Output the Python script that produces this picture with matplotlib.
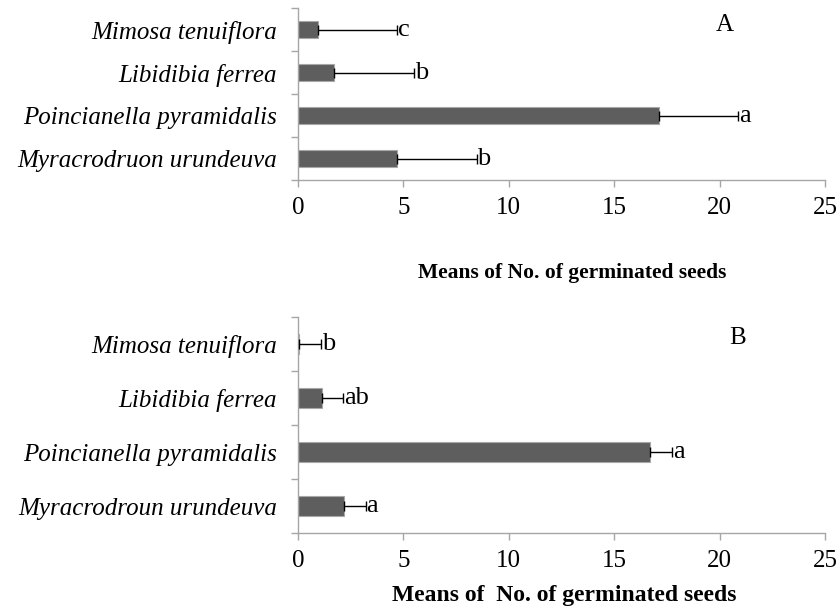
import numpy as np
import matplotlib.pyplot as plt

# species, bottom to top
species_a = ['Myracrodruon urundeuva', 'Poincianella pyramidalis',
             'Libidibia ferrea', 'Mimosa tenuiflora']
species_b = ['Myracrodroun urundeuva', 'Poincianella pyramidalis',
             'Libidibia ferrea', 'Mimosa tenuiflora']

means_a = [4.72, 17.11, 1.72, 0.93]
err_a = [3.76, 3.76, 3.78, 3.76]
letters_a = ['b', 'a', 'b', 'c']

means_b = [2.20, 16.69, 1.13, 0.05]
err_b = [1.01, 1.05, 1.02, 1.05]
letters_b = ['a', 'a', 'ab', 'b']

xticks = [0, 5, 10, 15, 20, 25]

plt.rcParams['font.family'] = ['Liberation Serif', 'DejaVu Serif']

AXIS_GREY = '#A6A6A6'
BAR_GREY = '#5E5E5E'


def drawPanel(ax, names, means, errs, letters, panel, panel_xy, panel_size):
    y = np.arange(len(names))
    ax.barh(y, means, height=0.38, color=BAR_GREY, edgecolor='#A8A8A8', linewidth=0.8, zorder=2)
    ax.errorbar(means, y, xerr=[np.zeros(len(errs)), errs], fmt='none',
                ecolor='black', elinewidth=1.0, capsize=3.5, capthick=1.0, zorder=3)
    for yi, m, e, lab in zip(y, means, errs, letters):
        ax.annotate(lab, (m + e, yi), xytext=(0.5, 0), textcoords='offset points',
                    ha='left', va='center', fontsize=19)

    ax.set_xlim(0, 25)
    ax.set_ylim(-0.5, len(names) - 0.5)
    ax.set_xticks(xticks)
    ax.set_xticklabels([str(t) for t in xticks], fontsize=18)
    ax.set_yticks(np.arange(len(names) + 1) - 0.5)
    ax.set_yticklabels([])
    ax.set_yticks(y, minor=True)
    ax.set_yticklabels(names, minor=True, fontsize=18, style='italic')
    ax.tick_params(axis='y', which='minor', length=0, pad=15)
    ax.tick_params(axis='y', which='major', length=5, color=AXIS_GREY, width=1)
    ax.tick_params(axis='x', length=5, color=AXIS_GREY, width=1, pad=7)

    for s in ['top', 'right']:
        ax.spines[s].set_visible(False)
    for s in ['left', 'bottom']:
        ax.spines[s].set_color(AXIS_GREY)
        ax.spines[s].set_linewidth(1)

    ax.text(panel_xy[0], panel_xy[1], panel, transform=ax.figure.transFigure,
            ha='center', va='center', fontsize=panel_size)


fig = plt.figure(figsize=(8.38, 6.09), dpi=100)
ax_a = fig.add_axes([298 / 838, 1 - 180 / 609, 527 / 838, 172 / 609])
ax_b = fig.add_axes([298 / 838, 1 - 533 / 609, 527 / 838, 216 / 609])

drawPanel(ax_a, species_a, means_a, err_a, letters_a, 'A', (725 / 838, 1 - 25 / 609), 18)
drawPanel(ax_b, species_b, means_b, err_b, letters_b, 'B', (738 / 838, 1 - 338 / 609), 18)

fig.text(572 / 838, 1 - 273 / 609, 'Means of No. of germinated seeds',
         ha='center', va='center', fontsize=15.5, fontweight='bold')
fig.text(564 / 838, 1 - 595 / 609, 'Means of  No. of germinated seeds',
         ha='center', va='center', fontsize=17, fontweight='bold')

fig.savefig('out.png', dpi=100)
